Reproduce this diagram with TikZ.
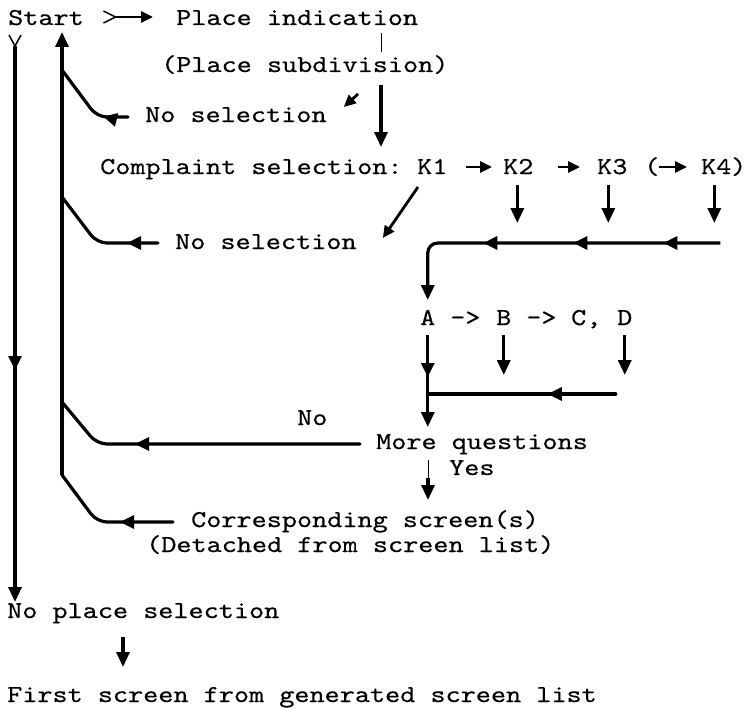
\documentclass[tikz,border=0pt]{standalone}
\usepackage{fontspec}
\setmonofont{lmmono10-regular.otf}[FakeStretch=1.19,FakeBold=0.4]
\usetikzlibrary{arrows.meta,calc,decorations.markings}
\begin{document}
\begin{tikzpicture}[x=1pt,y=-1pt,
  lbl/.style={font=\ttfamily\fontsize{24.2}{29}\selectfont, inner sep=0pt, anchor=base west},
  wire/.style={line width=3.2pt, line cap=round},
  flow/.style={line width=3.2pt, -{Triangle[length=15pt,width=13pt]}},
  karr/.style={line width=2.8pt, -{Triangle[length=12pt,width=11pt]}},
  hair/.style={line width=1pt},
  fork/.style={line width=1.5pt},
  midtip/.style={postaction={decorate,decoration={markings,
      mark=at position #1 with {\arrow{Triangle[length=14pt,width=13pt]}}}}}
]
\useasboundingbox (0,0) rectangle (750,709);

% ---- text ----
\node[lbl] (start)   at (8,25)    {Start};
\node[lbl] (place)   at (176,25)  {Place indication};
\node[lbl] (sub)     at (161,72)  {(Place subdivision)};
\node[lbl] (nosel1)  at (145,122) {No selection};
\node[lbl] (compl)   at (100,174) {Complaint selection:};
\node[lbl] (k1)      at (417,174) {K1};
\node[lbl] (k2)      at (503,174) {K2};
\node[lbl] (k3)      at (597,174) {K3};
\node[lbl] (lp)      at (644,174) {(};
\node[lbl] (k4)      at (701,174) {K4};
\node[lbl] (rp)      at (731,174) {)};
\node[lbl] (nosel2)  at (175,249) {No selection};
\node[lbl] (a)       at (420,325) {A};
\node[lbl] (ar1)     at (450,325) {->};
\node[lbl] (b)       at (496,325) {B};
\node[lbl] (ar2)     at (526,325) {->};
\node[lbl] (c)       at (571,325) {C,};
\node[lbl] (d)       at (617,325) {D};
\node[lbl] (no)      at (297,425) {No};
\node[lbl] (mq)      at (376,449) {More questions};
\node[lbl] (yes)     at (449,475) {Yes};
\node[lbl] (corr)    at (191,527) {Corresponding screen(s)};
\node[lbl] (det)     at (146,552) {(Detached from screen list)};
\node[lbl] (noplace) at (7,618)   {No place selection};
\node[lbl] (first)   at (7,702)   {First screen from generated screen list};

% ---- helper points ----
\coordinate (yfork)  at ($(start.base west)+(7,21)$);
\coordinate (sfork)  at ($(start.base east)+(31.5,-8)$);
\coordinate (retbot) at (62,475);
\coordinate (colr)   at ($(k4.base)+(4,69)$);
\coordinate (dmerge) at ($(d.base)+(-9,69)$);
\coordinate (yesmid) at ($(mq.base west)+(52,29)$);

% ---- Start -> Place indication ----
\draw[fork] (sfork) -- ++(-12,-6) (sfork) -- ++(-12,6);
\draw[karr] (sfork) -- ($(place.base west)+(-23,-8)$);

% ---- left trunk: no place selection ----
\draw[fork] (yfork) -- ++(-6,-11) (yfork) -- ++(6,-11);
\draw[flow, midtip=324pt] (yfork) -- ($(noplace.base west)+(8,-16)$);
\draw[flow] ($(noplace.base west)+(116,19)$) -- ($(first.base west)+(116,-35)$);

% ---- return trunk back to Start ----
\draw[flow] (retbot) -- ($(start.base west)+(54,7)$);

% ---- Place indication -> subdivision -> complaint selection ----
\draw[hair] ($(place.base west)+(205,8)$) -- ($(sub.base west)+(220,-20)$);
\draw[flow] ($(sub.base west)+(220,13)$) -- ($(compl.base west)+(281,-27)$);
\draw[karr] ($(sub.base west)+(197,22)$) -- ($(nosel1.base east)+(17,-15)$);

% ---- branches into the return trunk ----
\draw[wire, rounded corners=10pt, midtip=25pt]
  ($(nosel1.base west)+(-17,-5)$) -- ++(-31,0) -- ++(-35,-47);
\draw[wire, rounded corners=10pt, midtip=31pt]
  ($(nosel2.base west)+(-17,-6)$) -- ++(-61,0) -- ++(-35,-46);
\draw[wire, rounded corners=10pt, midtip=225pt]
  ($(mq.base west)+(-16,-5)$) -- ++(-263,0) -- ++(-35,-42);
\draw[wire, rounded corners=10pt, midtip=53pt]
  ($(corr.base west)+(-18,-5)$) -- ++(-76,0) -- (retbot);

% ---- complaint chain ----
\draw[karr] ($(k1.base east)+(18,-7)$) -- ($(k2.base west)+(-11,-7)$);
\draw[karr] ($(k2.base east)+(24,-7)$) -- ($(k3.base west)+(-17,-7)$);
\draw[karr] ($(lp.base east)+(-1,-7)$) -- ($(k4.base west)+(-14,-7)$);
\draw[karr] ($(k1.base west)+(1,13)$) -- ($(nosel2.base east)+(26,-11)$);
\draw[flow] ($(k2.base)+(-1,11)$) -- ($(k2.base)+(-1,49)$);
\draw[flow] ($(k3.base)+(-4,11)$) -- ($(k3.base)+(-4,49)$);
\draw[flow] ($(k4.base)+(-2,11)$) -- ($(k4.base)+(-2,49)$);

% ---- collector to A ----
\draw[flow, rounded corners=10pt, midtip=57pt, midtip=147pt, midtip=237pt]
  (colr) -- (colr -| a) -- ($(a.base)+(0,-25)$);

% ---- A / B / D to More questions ----
\draw[flow, midtip=42pt] ($(a.base)+(0,10)$) -- ($(a.base)+(0,102)$);
\draw[flow] ($(b.base)+(0,10)$) -- ($(b.base)+(0,50)$);
\draw[flow] ($(d.base)+(0,10)$) -- ($(d.base)+(0,50)$);
\draw[wire, midtip=68pt] (dmerge) -- (dmerge -| a);

% ---- Yes ----
\draw[hair] ($(mq.base west)+(52,11)$) -- (yesmid);
\draw[flow] (yesmid) -- ($(corr.base west)+(237,-27)$);
\end{tikzpicture}
\end{document}
